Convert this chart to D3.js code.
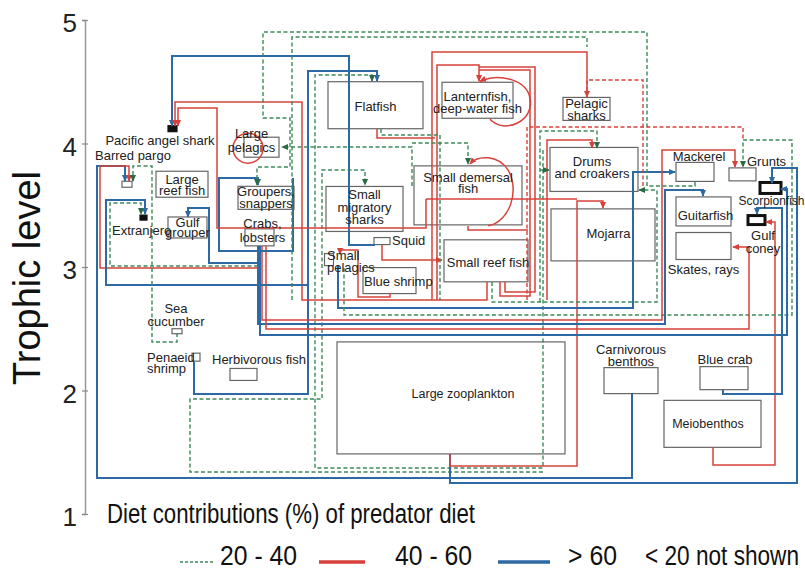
<!DOCTYPE html>
<html>
<head>
<meta charset="UTF-8">
<script src="https://cdn.jsdelivr.net/npm/d3@7"></script>
<style>
    body { margin: 0; background: #fff; }
    svg { display: block; font-family: "Liberation Sans", Arial, sans-serif; }
</style>
</head>
<body>
<svg width="805" height="568"></svg>
<script>
// functional groups and their trophic level
var groups = ['Pacific angel shark', 'Barred pargo', 'Large reef fish', 'Large pelagics', 'Groupers, snappers',
    'Crabs, lobsters', 'Extranjero', 'Gulf grouper', 'Sea cucumber', 'Penaeid shrimp', 'Herbivorous fish',
    'Flatfish', 'Lanternfish, deep-water fish', 'Pelagic sharks', 'Small demersal fish', 'Small migratory sharks',
    'Squid', 'Small pelagics', 'Blue shrimp', 'Small reef fish', 'Drums and croakers', 'Mojarra', 'Mackerel',
    'Grunts', 'Scorpionfish', 'Gulf coney', 'Guitarfish', 'Skates, rays', 'Carnivorous benthos', 'Blue crab',
    'Meiobenthos', 'Large zooplankton'];
var trophicLevel = [4.12, 3.67, 3.67, 3.97, 3.56, 3.24, 3.40, 3.32, 2.48, 2.27, 2.13,
    4.31, 4.35, 4.28, 3.58, 3.47, 3.21, 3.06, 2.89, 3.05, 3.79, 3.26, 3.77,
    3.75, 3.64, 3.38, 3.45, 3.17, 2.08, 2.10, 1.73, 1.94];

// diet links: class (b > 60, r 40-60, g 20-40), route as [layout x, trophic level]
var linkType = ['b', 'b', 'g', 'g', 'b', 'b', 'r', 'r', 'b', 'r', 'g', 'b', 'g', 'r', 'b', 'r', 'b', 'r', 'g', 'b',
    'b', 'b', 'g', 'r', 'r', 'r', 'g', 'g', 'g', 'r', 'r', 'r', 'r', 'r', 'g', 'g', 'rd', 'rd', 'r', 'g', 'r', 'r', 'g'];
var linkArrow = [1, 1, 1, 1, 1, 1, 1, 1, 1, 1, 1, 1, 1, 1, 1, 1, 1, 1, 1, 1,
    1, 1, 1, 1, 1, 0, 1, 1, 0, 1, 1, 0, 0, 1, 1, 1, 0, 0, 0, 0, 1, 0, 1];
var linkRoute = [
    [[290, 3.178], [264, 3.178], [264, 4.709], [87, 4.709], [87, 4.142]],
    [[109, 2.231], [109, 1.972], [223, 1.972], [223, 4.587], [292, 4.587], [292, 4.506]],
    [[458, 3.947], [458, 1.373], [230, 1.373], [230, 4.555], [287, 4.555], [287, 4.506]],
    [[458, 1.340], [105, 1.340], [105, 1.931], [237, 1.931], [237, 3.785], [280, 3.785], [280, 3.664]],
    [[547, 1.980], [547, 1.291], [12, 1.291], [12, 3.818], [40, 3.818], [40, 3.696]],
    [[365, 1.486], [365, 1.251], [712, 1.251], [712, 3.802], [687, 3.802], [687, 3.680]],
    [[365, 1.486], [365, 1.389], [492, 1.389], [492, 3.534], [518, 3.534], [518, 3.478]],
    [[628, 1.543], [628, 1.397], [690, 1.397], [690, 3.364], [681, 3.364]],
    [[638, 2.004], [638, 1.972], [697, 1.972], [697, 3.478], [672, 3.478], [672, 3.429]],
    [[402, 2.879], [402, 2.733], [217, 2.733], [217, 4.336], [90, 4.336], [90, 4.142]],
    [[407, 2.879], [407, 2.717], [572, 2.717], [572, 3.623], [554, 3.623]],
    [[253, 3.016], [253, 2.668], [548, 2.668], [548, 3.769], [590, 3.769]],
    [[259, 2.992], [259, 2.611], [707, 2.611], [707, 4.028], [658, 4.028], [658, 3.810]],
    [[177, 3.170], [177, 2.571], [577, 2.571], [577, 3.947], [650, 3.947], [650, 3.810]],
    [[173, 3.170], [173, 2.538], [580, 2.538], [580, 3.623], [618, 3.623], [618, 3.575]],
    [[181, 3.170], [181, 2.498], [664, 2.498], [664, 3.162], [648, 3.162]],
    [[175, 3.170], [175, 2.449], [702, 2.449], [702, 3.632], [696, 3.632]],
    [[173, 2.992], [15, 2.992], [15, 3.818], [44, 3.818], [44, 3.696]],
    [[173, 3.008], [25, 3.008], [25, 3.518], [56, 3.518], [56, 3.429]],
    [[223, 2.854], [21, 2.854], [21, 3.543], [60, 3.543], [60, 3.429]],
    [[173, 3.032], [124, 3.032], [124, 3.478], [103, 3.478], [103, 3.405]],
    [[208, 3.721], [208, 3.130], [134, 3.130], [134, 3.721], [173, 3.721], [173, 3.664]],
    [[92, 2.466], [92, 2.393], [67, 2.393], [67, 3.818], [48, 3.818], [48, 3.696]],
    [[341, 3.551], [341, 3.316], [132, 3.316], [132, 4.287], [93, 4.287], [93, 4.142]],
    [[297, 3.178], [297, 3.057], [357, 3.057]],
    [[341, 3.551], [492, 3.551]],
    [[610, 3.688], [610, 3.656], [562, 3.656], [562, 4.903], [178, 4.903], [178, 4.206], [205, 4.206], [205, 3.810], [172, 3.810], [172, 3.664]],
    [[327, 3.656], [327, 3.972], [197, 3.972]],
    [[207, 2.733], [207, 4.862], [502, 4.862], [502, 4.781]],
    [[347, 2.733], [347, 4.741], [502, 4.741], [502, 4.377]],
    [[352, 2.733], [352, 4.636], [394, 4.636], [394, 4.506]],
    [[415, 2.879], [415, 2.765], [445, 2.765], [445, 4.595], [394, 4.595]],
    [[420, 2.879], [420, 2.798], [450, 2.798], [450, 4.619], [394, 4.619]],
    [[462, 2.733], [462, 4.028], [507, 4.028], [507, 3.964]],
    [[455, 2.717], [455, 4.101], [512, 4.101], [512, 3.964]],
    [[455, 3.785], [464, 3.785]],
    [[442, 2.733], [442, 4.134], [658, 4.134], [658, 4.028]],
    [[558, 3.656], [558, 4.514], [502, 4.514], [502, 4.377]],
    [[292, 4.117], [292, 4.045], [350, 4.045]],
    [[296, 4.117], [296, 4.069], [355, 4.069], [355, 2.733]],
    [[305, 2.789], [305, 2.757], [273, 2.757], [273, 3.138], [255, 3.138], [255, 3.105]],
    [[383, 3.332], [383, 3.300], [443, 3.300]],
    [[327, 4.004], [383, 4.004], [383, 3.834]]
];
var tickValues = [1, 2, 3, 4, 5];
var legendLabels = ['20 - 40', '40 - 60', '> 60', '< 20 not shown'];

// box layout: layout x, w, h, label lines, label dx, dy, line gap, anchor, font size, box kind
var layout = [
    [87.5, 9, 6, ['Pacific angel shark'], -12.5, 16, 0, 'middle', 13, 2],
    [42, 10, 6, ['Barred pargo'], -32, -24, 0, 'start', 13, 0],
    [97, 52, 26, ['Large', 'reef fish'], 0, 0, 11, 'middle', 13, 0],
    [176.5, 35, 20, ['Large', 'pelagics'], -10, -9, 14, 'middle', 13, 0],
    [181, 56, 23, ['Groupers,', 'snappers'], 0, -1.5, 11.5, 'middle', 13, 0],
    [174.5, 29, 17, ['Crabs,', 'lobsters'], 3, -9.5, 14, 'middle', 13, 0],
    [58.5, 7, 5, ['Extranjero'], -31.5, 17.5, 0, 'start', 13, 2],
    [102.5, 39, 21, ['Gulf', 'grouper'], 0, -0.5, 10.5, 'middle', 13, 0],
    [92, 10, 5, ['Sea', 'cucumber'], -1, -18, 13, 'middle', 13, 0],
    [111, 8, 8, ['Penaeid', 'shrimp'], -49, 5, 11, 'start', 13, 0],
    [158.5, 27, 12, ['Herbivorous fish'], -31.5, -10, 0, 'start', 13, 0],
    [290.5, 95, 47, ['Flatfish'], 0, 5.5, 0, 'middle', 13, 0],
    [392.5, 71, 36, ['Lanternfish,', 'deep-water fish'], 0, 1, 12, 'middle', 13, 0],
    [501.5, 47, 23, ['Pelagic', 'sharks'], 0, -0.5, 12, 'middle', 13, 0],
    [383, 108, 59, ['Small demersal', 'fish'], 0, -13.5, 11.5, 'middle', 13, 0],
    [279.5, 77, 45, ['Small', 'migratory', 'sharks'], 0, -9.5, 12.5, 'middle', 13, 0],
    [297, 16, 7, ['Squid'], 10, 3.5, 0, 'start', 13, 0],
    [244, 9, 12, ['Small', 'pelagics'], -2, 0, 12, 'start', 13, 0],
    [304.5, 53, 26, ['Blue shrimp'], -25.5, 5, 0, 'start', 13, 0],
    [401, 84, 42, ['Small reef fish'], 2, 6, 0, 'middle', 13, 0],
    [509, 88, 44, ['Drums', 'and croakers'], -2, -3, 11.5, 'middle', 13, 0],
    [518, 104, 52, ['Mojarra'], 5.5, 3, 0, 'middle', 13, 0],
    [610, 38, 19, ['Mackerel'], 4, -10.5, 0, 'middle', 13, 0],
    [657.5, 27, 13, ['Grunts'], 4.5, -8.5, 0, 'start', 13, 0],
    [685.5, 21, 11, ['Scorpionfish'], -32, 17.5, 0, 'start', 12, 1],
    [671.5, 17, 9, ['Gulf', 'coney'], 6.5, 19.5, 13, 'middle', 13, 1],
    [618.5, 55, 29, ['Guitarfish'], 2, 8.5, 0, 'middle', 13, 0],
    [618.5, 55, 27, ['Skates, rays'], 0, 27.5, 0, 'middle', 13, 0],
    [546, 54, 26, ['Carnivorous', 'benthos'], 0, -27, 12, 'middle', 13, 0],
    [639, 48, 23, ['Blue crab'], 1, -14.5, 0, 'middle', 13, 0],
    [627.5, 97, 47, ['Meiobenthos'], -4.5, 4.5, 0, 'middle', 12.5, 0],
    [366, 228, 112, ['Large zooplankton'], 12, 0, 0, 'middle', 12.5, 0]
];

var colors = {g: '#3b8a5b', r: '#d8413b', rd: '#d8413b', b: '#2d69a5'};
var widths = {g: 1.4, r: 1.5, rd: 1.4, b: 2};

var svg = d3.select('svg');
var x = d3.scaleLinear().domain([0, 720]).range([85, 805]);
var y = d3.scaleLinear().domain([1, 5]).range([514, 20]);

var defs = svg.append('defs');
['g', 'r', 'b'].forEach(function (k) {
    defs.append('marker')
        .attr('id', 'arrow-' + k)
        .attr('viewBox', '0 -4 8 8')
        .attr('refX', 7).attr('refY', 0)
        .attr('markerWidth', 7).attr('markerHeight', 7)
        .attr('markerUnits', 'userSpaceOnUse')
        .attr('orient', 'auto')
        .append('path').attr('d', 'M0,-3.5L8,0L0,3.5Z')
        .attr('fill', k === 'g' ? '#2a6b44' : colors[k]);
});

// axis
var axisG = svg.append('g').attr('transform', 'translate(85,0)')
    .call(d3.axisLeft(y).tickValues(tickValues).tickSizeOuter(0).tickSize(3).tickPadding(5).tickFormat(d3.format('d')));
axisG.select('.domain').attr('stroke', '#999').attr('stroke-width', 1.5);
axisG.selectAll('.tick line').attr('x1', 3).attr('x2', -3).attr('stroke', '#888').attr('stroke-width', 1.2);
axisG.selectAll('.tick text').attr('font-size', 26).attr('fill', '#222').attr('dy', '0.45em')
    .attr('font-family', '"Liberation Sans", Arial, sans-serif');

svg.append('text')
    .attr('transform', 'translate(40,278) rotate(-90)')
    .attr('text-anchor', 'middle')
    .attr('font-size', 38)
    .attr('fill', '#111')
    .attr('textLength', 214).attr('lengthAdjust', 'spacingAndGlyphs')
    .text('Trophic level');

// boxes
var nodeG = svg.append('g');
groups.forEach(function (name, i) {
    var L = layout[i];
    var cx = x(L[0]), cy = y(trophicLevel[i]);
    nodeG.append('rect')
        .attr('x', cx - L[1] / 2).attr('y', cy - L[2] / 2)
        .attr('width', L[1]).attr('height', L[2])
        .attr('fill', L[9] === 2 ? '#111' : (L[9] === 1 ? '#fff' : 'none'))
        .attr('stroke', L[9] ? '#111' : '#666')
        .attr('stroke-width', L[9] === 1 ? 3 : 1.2);
});

// cannibalism loops (red, 40 - 60)
var line = d3.line().x(function (d) { return x(d[0]); }).y(function (d) { return y(d[1]); });
function nodeXY(name) {
    var i = groups.indexOf(name);
    return [x(layout[i][0]), y(trophicLevel[i])];
}
var lf = nodeXY('Lanternfish, deep-water fish');
svg.append('path')
    .attr('d', 'M' + (lf[0] + 12.5) + ',' + (lf[1] + 19) +
        'C' + (lf[0] + 27.5) + ',' + (lf[1] + 35) + ' ' + (lf[0] + 57.5) + ',' + (lf[1] + 20) + ' ' + (lf[0] + 52.5) + ',' + (lf[1] - 2) +
        'C' + (lf[0] + 49.5) + ',' + (lf[1] - 20) + ' ' + (lf[0] + 22.5) + ',' + (lf[1] - 28) + ' ' + (lf[0] + 2.5) + ',' + (lf[1] - 19))
    .attr('fill', 'none').attr('stroke', colors.r).attr('stroke-width', 1.5)
    .attr('marker-end', 'url(#arrow-r)');
var sd = nodeXY('Small demersal fish');
svg.append('path')
    .attr('d', 'M' + (sd[0] + 20) + ',' + (sd[1] + 30.5) +
        'C' + (sd[0] + 42) + ',' + (sd[1] + 26.5) + ' ' + (sd[0] + 52) + ',' + (sd[1] - 5.5) + ' ' + (sd[0] + 40) + ',' + (sd[1] - 25.5) +
        'C' + (sd[0] + 30) + ',' + (sd[1] - 40.5) + ' ' + (sd[0] + 10) + ',' + (sd[1] - 40.5) + ' ' + (sd[0] + 2) + ',' + (sd[1] - 31.5))
    .attr('fill', 'none').attr('stroke', colors.r).attr('stroke-width', 1.5)
    .attr('marker-end', 'url(#arrow-r)');
var lp = nodeXY('Large pelagics');
svg.append('circle')
    .attr('cx', lp[0] - 13.5).attr('cy', lp[1] + 1).attr('r', 15)
    .attr('fill', 'none').attr('stroke', colors.r).attr('stroke-width', 1.5);

// diet links
svg.append('g').selectAll('path')
    .data(linkRoute)
    .enter()
    .append('path')
    .attr('d', line)
    .attr('fill', 'none')
    .attr('stroke', function (d, i) { return colors[linkType[i]]; })
    .attr('stroke-width', function (d, i) { return widths[linkType[i]]; })
    .attr('stroke-dasharray', function (d, i) {
        return (linkType[i] === 'g' || linkType[i] === 'rd') ? '4,2.5' : null;
    })
    .attr('marker-end', function (d, i) {
        if (!linkArrow[i]) return null;
        return 'url(#arrow-' + (linkType[i] === 'rd' ? 'r' : linkType[i]) + ')';
    });

// labels
var labelG = svg.append('g').attr('fill', '#222');
groups.forEach(function (name, i) {
    var L = layout[i];
    var cx = x(L[0]), cy = y(trophicLevel[i]);
    L[3].forEach(function (txt, j) {
        labelG.append('text')
            .attr('x', cx + L[4])
            .attr('y', cy + L[5] + j * L[6])
            .attr('text-anchor', L[7])
            .attr('font-size', L[8])
            .text(txt);
    });
});

svg.append('text')
    .attr('x', 107).attr('y', 523)
    .attr('font-size', 27).attr('fill', '#111')
    .attr('textLength', 368).attr('lengthAdjust', 'spacingAndGlyphs')
    .text('Diet contributions (%) of predator diet');

// legend
var legendX = [220, 395, 568, 645];
var legendW = [77, 77, 49, 154];
var legendSample = [[180, 213, 'g'], [319, 365, 'r'], [498, 550, 'b'], null];
legendLabels.forEach(function (lab, i) {
    var s = legendSample[i];
    if (s) {
        svg.append('line')
            .attr('x1', s[0]).attr('x2', s[1]).attr('y1', 562).attr('y2', 562)
            .attr('stroke', colors[s[2]])
            .attr('stroke-width', s[2] === 'g' ? 1.5 : 3.5)
            .attr('stroke-dasharray', s[2] === 'g' ? '3,2' : null);
    }
    svg.append('text')
        .attr('x', legendX[i]).attr('y', 565)
        .attr('font-size', 27).attr('fill', '#111')
        .attr('textLength', legendW[i]).attr('lengthAdjust', 'spacingAndGlyphs')
        .text(lab);
});
</script>
</body>
</html>
